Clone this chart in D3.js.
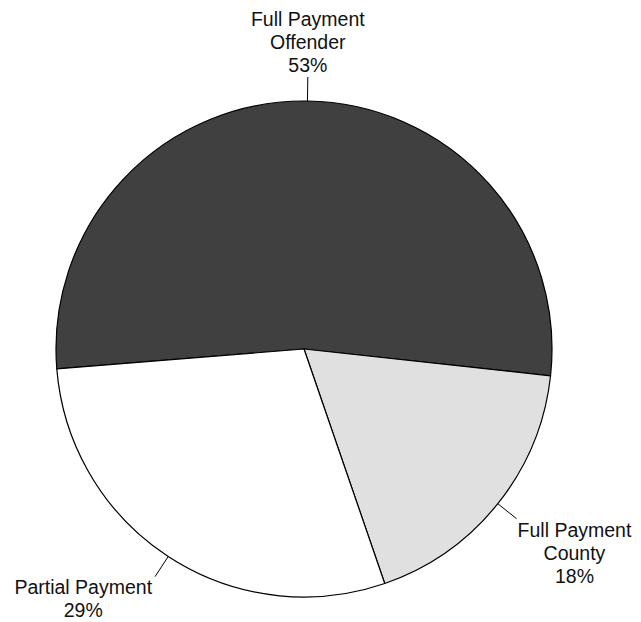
<!DOCTYPE html>
<html>
<head>
<meta charset="utf-8">
<script src="https://cdn.jsdelivr.net/npm/d3@7"></script>
<style>
  body { margin: 0; background: #ffffff; }
  text { font-family: "Liberation Sans", Arial, sans-serif; font-size: 19.5px; fill: #111111; }
</style>
</head>
<body>
<svg id="pie" width="641" height="622"></svg>
<script>
"use strict";

const categories = ["Full Payment Offender", "Full Payment County", "Partial Payment"];
const labelLines = [["Full Payment", "Offender"], ["Full Payment", "County"], ["Partial Payment"]];
const values = [53, 18, 29];
const colors = ["#404040", "#e0e0e0", "#ffffff"];

const cx = 304, cy = 349, radius = 248;
const leaderLen = 24;
const lineHeight = 23;
const startDeg = -94.6;

const svg = d3.select("svg#pie");
const g = svg.append("g").attr("transform", "translate(" + cx + "," + cy + ")");

const pie = d3.pie().sort(null)
    .startAngle(startDeg * Math.PI / 180)
    .endAngle(startDeg * Math.PI / 180 + 2 * Math.PI);
const arc = d3.arc().innerRadius(0).outerRadius(radius);
const slices = pie(values);

g.selectAll("path.slice")
    .data(slices)
    .join("path")
    .attr("class", "slice")
    .attr("d", arc)
    .attr("fill", (d, i) => colors[i])
    .attr("stroke", "#000000")
    .attr("stroke-width", 1.2)
    .attr("stroke-linejoin", "round");

function pointAt(angle, r) { return [r * Math.sin(angle), -r * Math.cos(angle)]; }

slices.forEach(function(d, i) {
    let mid = (d.startAngle + d.endAngle) / 2;
    let p0 = pointAt(mid, radius);
    let p1 = pointAt(mid, radius + leaderLen);
    g.append("line")
        .attr("x1", p0[0]).attr("y1", p0[1])
        .attr("x2", p1[0]).attr("y2", p1[1])
        .attr("stroke", "#000000")
        .attr("stroke-width", 1);

    let lines = labelLines[i].concat([values[i] + "%"]);
    let t = g.append("text").attr("text-anchor", "middle");
    lines.forEach(function(s, k) {
        t.append("tspan").attr("x", 0).attr("y", k * lineHeight).text(s);
    });
    let w = d3.max(t.selectAll("tspan").nodes(), n => n.getComputedTextLength());
    let tx, ty;
    if (Math.abs(p1[0]) < 40) {
        // top label: sits above the leader
        tx = p1[0];
        ty = p1[1] - 5 - (lines.length - 1) * lineHeight;
    } else if (p1[0] > 0) {
        tx = p1[0] + w / 2 + 1;
        ty = p1[1] + 18;
    } else {
        tx = p1[0] - w / 2 - 3;
        ty = p1[1] + 17;
    }
    t.attr("transform", "translate(" + tx + "," + ty + ")");
});
</script>
</body>
</html>
